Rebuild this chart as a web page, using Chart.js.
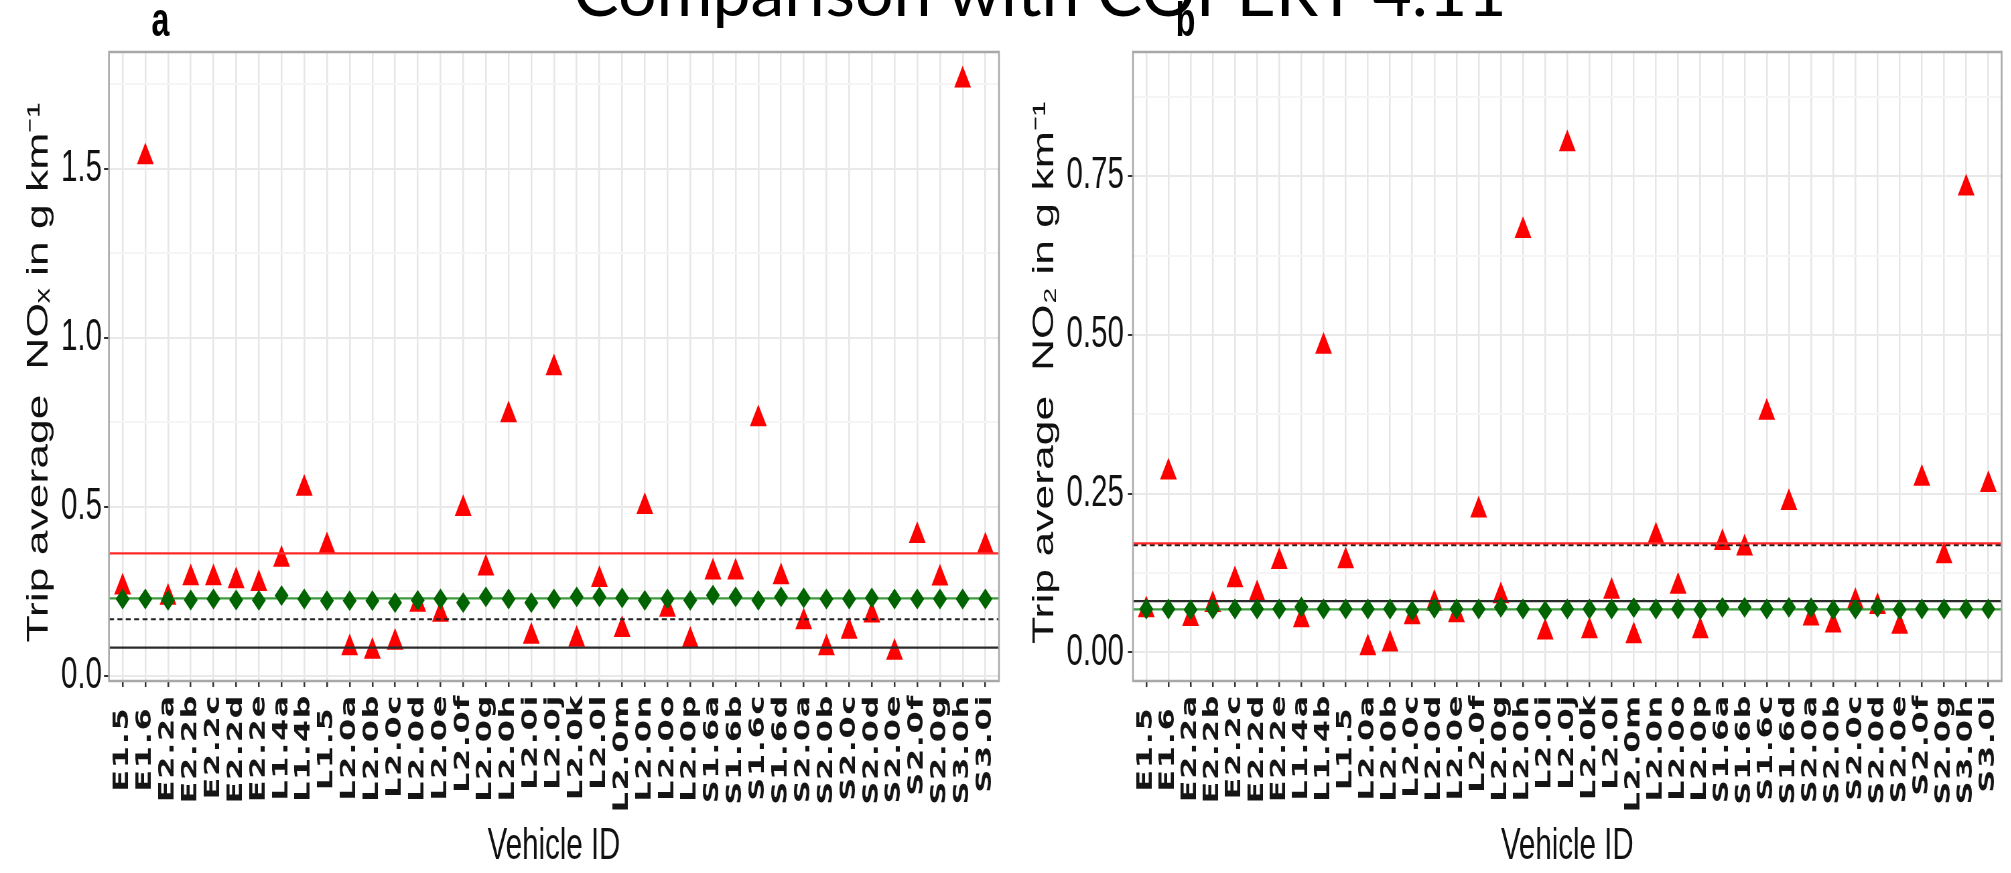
<!DOCTYPE html>
<html>
<head>
<meta charset="utf-8">
<title>Comparison with COPERT 4.11</title>
<script src="https://cdn.jsdelivr.net/npm/chart.js@4.4.1/dist/chart.umd.min.js"></script>
<style>
  html, body { margin: 0; padding: 0; background: #fff; overflow: hidden; }
  body { width: 2011px; height: 873px; position: relative; }
  /* the plots are drawn wide and squeezed horizontally */
  #squash { position: absolute; left: 0; top: 0; width: 3002px; height: 873px;
            transform: scaleX(0.67); transform-origin: 0 0; }
  #squash canvas { position: absolute; top: 0; }
  .tag { position: absolute; top: -4px; font: bold 48px 'Liberation Sans', Arial, sans-serif;
         line-height: 1; color: #000; }
  #heading { position: absolute; left: 1040px; top: -44px; transform: translateX(-50%);
             font: 68px Lato, 'Open Sans', sans-serif; line-height: 1; white-space: nowrap; color: #000; }
</style>
</head>
<body>
<div id="squash">
  <canvas id="noxChart" width="1508" height="873" style="left:0"></canvas>
  <canvas id="no2Chart" width="1494" height="873" style="left:1508px"></canvas>
  <div class="tag" style="left:226px">a</div>
  <div class="tag" style="left:1755px">b</div>
</div>
<div id="heading">Comparison with COPERT 4.11</div>

<script>
const vehicles = ['E1.5', 'E1.6', 'E2.2a', 'E2.2b', 'E2.2c', 'E2.2d', 'E2.2e', 'L1.4a', 'L1.4b', 'L1.5',
  'L2.0a', 'L2.0b', 'L2.0c', 'L2.0d', 'L2.0e', 'L2.0f', 'L2.0g', 'L2.0h', 'L2.0i', 'L2.0j',
  'L2.0k', 'L2.0l', 'L2.0m', 'L2.0n', 'L2.0o', 'L2.0p', 'S1.6a', 'S1.6b', 'S1.6c', 'S1.6d',
  'S2.0a', 'S2.0b', 'S2.0c', 'S2.0d', 'S2.0e', 'S2.0f', 'S2.0g', 'S3.0h', 'S3.0i'];

// NOx, g/km: measured trip averages (red) and COPERT 4.11 estimates (green)
const noxMeasured = [0.262, 1.534, 0.231, 0.289, 0.289, 0.280, 0.272, 0.344, 0.554, 0.384,
  0.082, 0.072, 0.098, 0.211, 0.181, 0.494, 0.318, 0.771, 0.116, 0.910,
  0.107, 0.284, 0.136, 0.500, 0.196, 0.104, 0.306, 0.306, 0.759, 0.292,
  0.159, 0.082, 0.131, 0.179, 0.069, 0.414, 0.288, 1.761, 0.383];
const noxCopert = [0.227, 0.227, 0.223, 0.224, 0.227, 0.224, 0.223, 0.237, 0.227, 0.222,
  0.222, 0.222, 0.216, 0.223, 0.227, 0.216, 0.233, 0.227, 0.216, 0.227,
  0.233, 0.233, 0.230, 0.223, 0.227, 0.223, 0.238, 0.233, 0.223, 0.233,
  0.230, 0.227, 0.227, 0.230, 0.227, 0.227, 0.227, 0.227, 0.227];
// horizontal reference lines: red, green, dotted, black
const noxLines = [0.362, 0.229, 0.167, 0.083];

// NO2, g/km
const no2Measured = [0.067, 0.284, 0.053, 0.075, 0.114, 0.092, 0.143, 0.051, 0.482, 0.144,
  0.007, 0.013, 0.056, 0.077, 0.059, 0.224, 0.089, 0.664, 0.032, 0.801,
  0.034, 0.096, 0.026, 0.183, 0.104, 0.034, 0.173, 0.164, 0.378, 0.236,
  0.054, 0.043, 0.080, 0.072, 0.041, 0.274, 0.152, 0.731, 0.264];
const no2Copert = [0.0685, 0.0685, 0.0675, 0.0685, 0.0685, 0.0685, 0.0685, 0.0716, 0.0685, 0.0685,
  0.0685, 0.0685, 0.0658, 0.0695, 0.0685, 0.0685, 0.0711, 0.0685, 0.0658, 0.0685,
  0.0685, 0.0685, 0.0706, 0.0685, 0.0685, 0.0674, 0.0711, 0.0711, 0.0685, 0.0711,
  0.0706, 0.0674, 0.0685, 0.0711, 0.0674, 0.0685, 0.0685, 0.0685, 0.0685];
const no2Lines = [0.172, 0.068, 0.169, 0.081];

// y axis ticks
const noxMajor = [0, 0.5, 1.0, 1.5];
const noxLabels = ['0.0', '0.5', '1.0', '1.5'];
const noxMinor = [0.25, 0.75, 1.25, 1.75];
const no2Major = [0, 0.25, 0.5, 0.75];
const no2Labels = ['0.00', '0.25', '0.50', '0.75'];
const no2Minor = [0.125, 0.375, 0.625, 0.875];

const SQ = 0.67;
Chart.defaults.font.family = "'Liberation Sans', Arial, sans-serif";
Chart.defaults.color = '#111';

// frame round the plot area; the vehicle ids (drawn after the datasets) get a little letter spacing
const panelBorder = {
    id: 'panelBorder',
    afterDatasetsDraw(chart) {
        const { ctx, chartArea: a } = chart;
        ctx.save();
        ctx.strokeStyle = '#a8a8a8';
        ctx.lineWidth = 2.5;
        ctx.strokeRect(a.left, a.top, a.right - a.left, a.bottom - a.top);
        ctx.restore();
        ctx.letterSpacing = '1.6px';
    },
    afterDraw(chart) {
        chart.ctx.letterSpacing = '0px';
    }
};

function points(values) {
    return values.map((v, i) => ({ x: i, y: v }));
}

function hline(value, color, dash) {
    return {
        data: [{ x: -0.6, y: value }, { x: vehicles.length - 0.4, y: value }],
        showLine: true, borderColor: color, borderWidth: 2.2, borderDash: dash,
        pointRadius: 0, order: 1
    };
}

function drawPanel(p) {
    const isMajor = v => p.major.indexOf(v) >= 0;
    const ticks = p.major.concat(p.minor).sort((a, b) => a - b);

    new Chart(document.getElementById(p.canvas), {
        type: 'scatter',
        data: {
            datasets: [
                { data: points(p.copert), pointStyle: 'rectRot', pointRadius: 9,
                  backgroundColor: '#006400', borderColor: '#006400', borderWidth: 2, order: 0 },
                hline(p.lines[0], '#ff2a2a', []),
                hline(p.lines[1], '#3d9a3d', []),
                hline(p.lines[2], '#222', [7.5, 5]),
                hline(p.lines[3], '#2b2b2b', []),
                { data: points(p.measured), pointStyle: 'triangle', pointRadius: 14.5,
                  backgroundColor: '#ff0000', borderWidth: 0, order: 2 }
            ]
        },
        plugins: [panelBorder],
        options: {
            responsive: false, animation: false, devicePixelRatio: 1,
            layout: { padding: { left: 0, right: p.padRight, top: 52, bottom: 0 } },
            plugins: {
                legend: { display: false },
                tooltip: { enabled: false },
                title: {
                    display: true, text: 'Vehicle ID', position: 'bottom', fullSize: false,
                    color: '#111', font: { size: 44, weight: 'normal', lineHeight: 1.2 },
                    padding: { top: 0, bottom: 0 }
                }
            },
            scales: {
                x: {
                    type: 'linear', min: -0.6, max: vehicles.length - 0.4,
                    afterBuildTicks: axis => { axis.ticks = vehicles.map((_, i) => ({ value: i })); },
                    afterFit: axis => { axis.height = 139.2; axis.paddingLeft = 0; axis.paddingRight = 0; },
                    ticks: {
                        z: 1, autoSkip: false, minRotation: 90, maxRotation: 90, padding: 7,
                        color: '#151515',
                        font: { family: "'DejaVu Sans', sans-serif", size: 32, weight: 'bold' },
                        // short ids get a trailing space so the labels sit centred
                        callback: v => vehicles[v].length < 5 ? vehicles[v] + ' ' : vehicles[v]
                    },
                    grid: { color: '#e6e6e6', lineWidth: 2.5, tickLength: 6, tickColor: '#333', tickWidth: 2.5 },
                    border: { display: false }
                },
                y: {
                    min: p.yMin, max: p.yMax,
                    afterBuildTicks: axis => { axis.ticks = ticks.map(v => ({ value: v })); },
                    afterFit: axis => { axis.width = p.axisWidth; axis.paddingTop = 0; axis.paddingBottom = 0; },
                    ticks: { padding: p.tickPad, color: '#111', font: { size: 44 },
                             callback: v => isMajor(v) ? p.labels[p.major.indexOf(v)] : '' },
                    grid: {
                        color: c => isMajor(c.tick.value) ? '#e9e9e9' : '#f5f5f5',
                        lineWidth: 2, tickLength: 7.5,
                        tickColor: c => isMajor(c.tick.value) ? '#333' : 'rgba(0,0,0,0)',
                        tickWidth: 2
                    },
                    border: { display: false },
                    title: { display: true, text: p.title, color: '#111',
                             font: { size: 44.5, lineHeight: 1.2 }, padding: { top: p.titlePad, bottom: 0 } }
                }
            }
        }
    });
}

drawPanel({
    canvas: 'noxChart', measured: noxMeasured, copert: noxCopert, lines: noxLines,
    major: noxMajor, minor: noxMinor, labels: noxLabels, yMin: -0.0156, yMax: 1.8446,
    title: 'Trip average  NOₓ in g km⁻¹ ', axisWidth: 109 / SQ, tickPad: 3, titlePad: 32, padRight: 17
});

drawPanel({
    canvas: 'no2Chart', measured: no2Measured, copert: no2Copert, lines: no2Lines,
    major: no2Major, minor: no2Minor, labels: no2Labels, yMin: -0.0449, yMax: 0.9457,
    title: 'Trip average  NO₂ in g km⁻¹ ', axisWidth: 183, tickPad: 6, titlePad: 25, padRight: 11
});
</script>
</body>
</html>
